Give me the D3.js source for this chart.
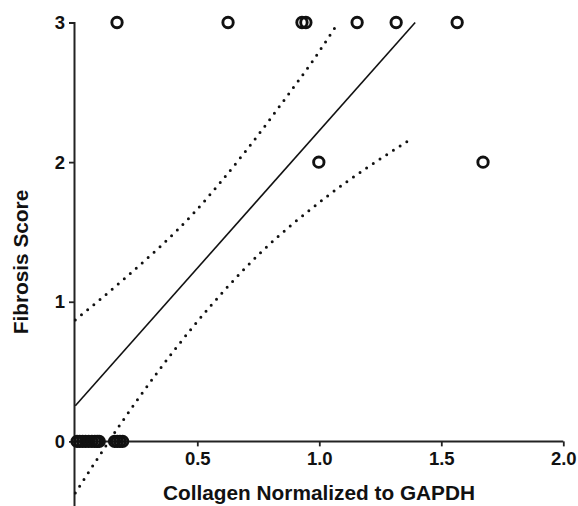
<!DOCTYPE html>
<html>
<head>
<meta charset="utf-8">
<script src="https://cdn.jsdelivr.net/npm/d3@7"></script>
<style>
  body { margin: 0; background: #fff; }
  text { font-family: "Liberation Sans", Arial, sans-serif; font-weight: bold; fill: #111; }
</style>
</head>
<body>
<script>
// points, grouped by fibrosis score
const score3X = [0.171, 0.626, 0.929, 0.945, 1.155, 1.315, 1.565];
const score2X = [0.998, 1.671];
const score0X = [0.007, 0.018, 0.03, 0.042, 0.055, 0.068, 0.08, 0.09, 0.098, 0.161, 0.172, 0.183, 0.194];

// fitted line and 95% bands (x, y)
const fitLine = [[0, 0.255], [1.393, 3]];
const upperBand = [[0, 0.87], [0.211, 1.18], [0.484, 1.633], [0.702, 2.087], [0.866, 2.468], [0.975, 2.73], [1.074, 2.99]];
const lowerBand = [[0, -0.37], [0.183, 0.118], [0.483, 0.822], [0.757, 1.347], [1.03, 1.752], [1.365, 2.153]];

const xTicks = [0.5, 1.0, 1.5, 2.0];
const yTicks = [0, 1, 2, 3];

const svg = d3.select("body").append("svg")
  .attr("width", 578)
  .attr("height", 506);

const x = d3.scaleLinear().domain([0, 2]).range([75.3, 563.3]);
const y = d3.scaleLinear().domain([-0.47, 3]).range([507, 22.5]);

// x axis sits at y = 0
const xAxis = svg.append("g")
  .attr("transform", `translate(0,${y(0)})`)
  .call(d3.axisBottom(x).tickValues(xTicks).tickFormat(d3.format(".1f")).tickSizeOuter(0).tickSize(5).tickPadding(5));
xAxis.select(".domain").attr("d", `M74,0H${x(2)}`);

const yAxis = svg.append("g")
  .attr("transform", "translate(74,0)")
  .call(d3.axisLeft(y).tickValues(yTicks).tickFormat(d3.format("d")).tickSizeOuter(0).tickSize(5).tickPadding(4));

svg.selectAll(".domain").attr("stroke", "#222").attr("stroke-width", 2);
svg.selectAll(".tick line").attr("stroke", "#222").attr("stroke-width", 1.8);
svg.selectAll(".tick text").style("font-size", "18.5px").attr("fill", "#111");

// fit + bands
const line = d3.line().x(d => x(d[0])).y(d => y(d[1]));
const curved = d3.line().x(d => x(d[0])).y(d => y(d[1])).curve(d3.curveMonotoneX);

svg.append("path")
  .datum(fitLine)
  .attr("d", line)
  .attr("fill", "none")
  .attr("stroke", "#111")
  .attr("stroke-width", 1.6);

[upperBand, lowerBand].forEach(b => {
  svg.append("path")
    .datum(b)
    .attr("d", curved)
    .attr("fill", "none")
    .attr("stroke", "#111")
    .attr("stroke-width", 3)
    .attr("stroke-linecap", "round")
    .attr("stroke-dasharray", "0,8");
});

// points
const pts = [];
score0X.forEach(v => pts.push([v, 0]));
score2X.forEach(v => pts.push([v, 2]));
score3X.forEach(v => pts.push([v, 3]));

svg.selectAll("circle.pt")
  .data(pts)
  .enter().append("circle")
  .attr("class", "pt")
  .attr("cx", d => x(d[0]))
  .attr("cy", d => y(d[1]))
  .attr("r", 5.2)
  .attr("fill", "none")
  .attr("stroke", "#111")
  .attr("stroke-width", 2.9);

// axis titles
svg.append("text")
  .attr("x", 319)
  .attr("y", 500)
  .attr("text-anchor", "middle")
  .style("font-size", "20.8px")
  .text("Collagen Normalized to GAPDH");

svg.append("text")
  .attr("transform", "translate(28,262) rotate(-90)")
  .attr("text-anchor", "middle")
  .style("font-size", "20.8px")
  .text("Fibrosis Score");
</script>
</body>
</html>
